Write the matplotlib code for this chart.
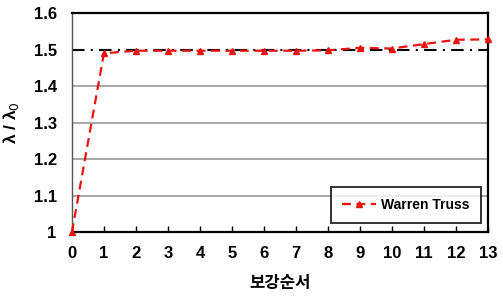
import matplotlib
matplotlib.use("Agg")
import matplotlib.pyplot as plt

steps = list(range(14))
warren = [1.0, 1.490, 1.497, 1.497, 1.497, 1.497, 1.497, 1.497, 1.498, 1.505, 1.503, 1.515, 1.527, 1.528]
ref_level = 1.5
yticks = [1, 1.1, 1.2, 1.3, 1.4, 1.5, 1.6]
ytick_labels = ["1", "1.1", "1.2", "1.3", "1.4", "1.5", "1.6"]

plt.rcParams['font.family'] = ['Liberation Sans', 'Noto Sans CJK KR', 'DejaVu Sans']

fig = plt.figure(figsize=(5.03, 2.98), dpi=100)
ax = fig.add_axes([0.143, 0.221, 0.827, 0.735])

for y in yticks[1:5]:
    ax.axhline(y, color='#999999', lw=1.2, zorder=1)
ax.axhline(ref_level, color='black', lw=1.5, linestyle=(0, (6, 3, 1, 3)), zorder=2)

ax.plot(steps, warren, color='#ee1111', lw=1.6, linestyle=(0, (4, 2.5)),
        marker='^', markersize=4.5, markerfacecolor='#ee1111', markeredgecolor='#ee1111',
        label='Warren Truss', zorder=3, clip_on=False)

ax.set_xlim(0, 13)
ax.set_ylim(1.0, 1.6)
ax.set_xticks(steps)
ax.set_xticklabels([str(s) for s in steps], fontsize=12, fontweight='bold')
ax.set_yticks(yticks)
ax.set_yticklabels(ytick_labels, fontsize=12, fontweight='bold')
ax.tick_params(axis='x', direction='in', length=4, width=1, pad=10, colors='black')
ax.tick_params(axis='y', length=0, pad=11)
for s in ax.spines.values():
    s.set_color('black')
    s.set_linewidth(1.6)
ax.spines['left'].set_color('#555555')
ax.spines['left'].set_linewidth(1.0)

ax.set_xlabel('보강순서', fontsize=12, fontweight='bold', family=['Noto Sans CJK KR'], labelpad=9)
ax.set_ylabel('λ / λ$_0$', fontsize=12.5, fontweight='bold', labelpad=9)

leg = ax.legend(loc='lower right', fontsize=10, frameon=True, fancybox=False,
                edgecolor='black', handlelength=2.5, handletextpad=0.35, borderpad=0.8,
                borderaxespad=0, bbox_to_anchor=(0.983, 0.041))
leg.get_frame().set_linewidth(1.4)
for t in leg.get_texts():
    t.set_fontweight('bold')

fig.savefig('out.png', dpi=100)
